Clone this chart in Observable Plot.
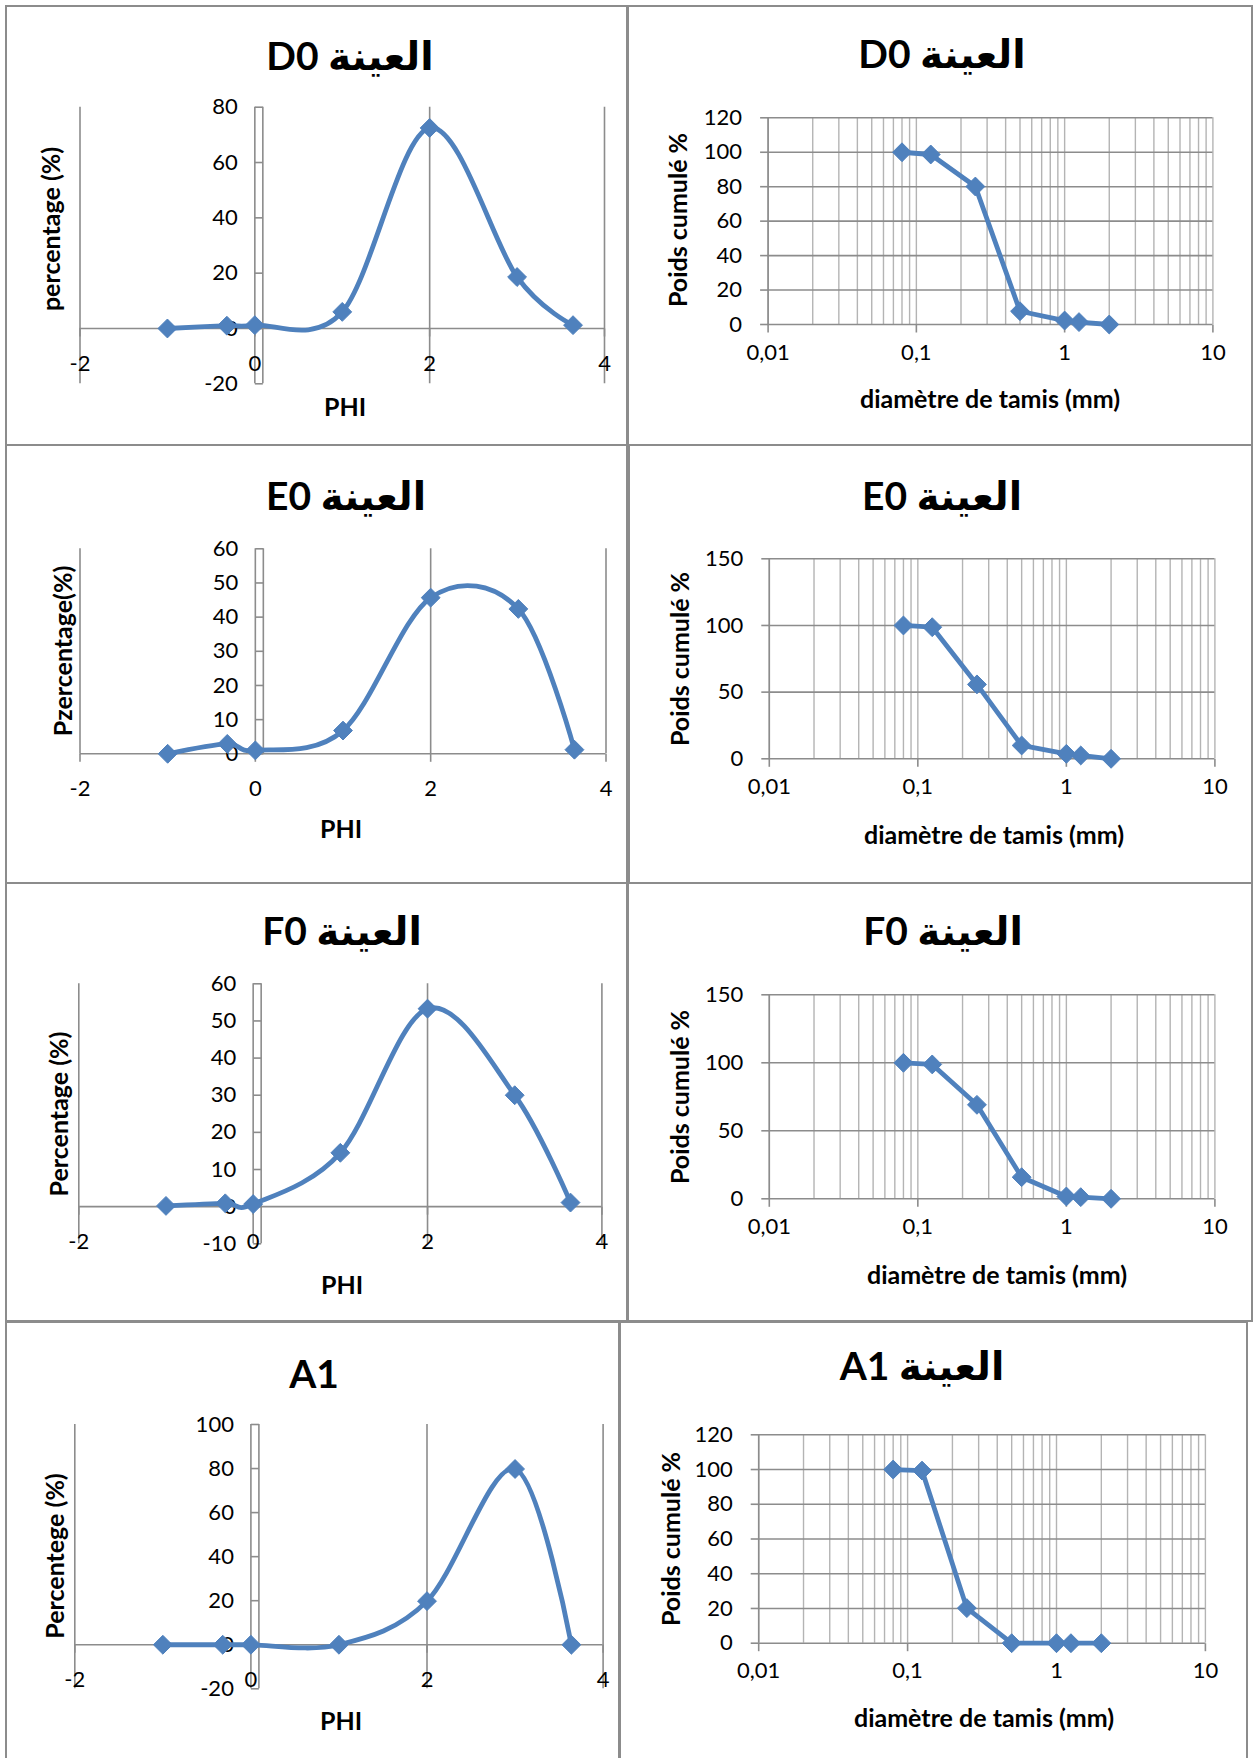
<!DOCTYPE html>
<html><head><meta charset="utf-8">
<script src="https://cdn.jsdelivr.net/npm/d3@7"></script>
<script src="https://cdn.jsdelivr.net/npm/@observablehq/plot@0.6"></script>
<style>
html,body{margin:0;padding:0;background:#fff;}
#page{position:relative;width:1253px;height:1758px;overflow:hidden;background:#fff;font-family:Lato,"DejaVu Sans",sans-serif;color:#000;}
.box{position:absolute;border:2px solid #8c8c8c;box-sizing:border-box;pointer-events:none;z-index:5}
.title{position:absolute;width:500px;text-align:center;font-weight:bold;font-size:39px;line-height:50px;white-space:nowrap}
.xt{position:absolute;width:400px;text-align:center;font-weight:bold;font-size:25px;line-height:30px;white-space:nowrap}
.yt{position:absolute;width:400px;text-align:center;font-weight:bold;font-size:25px;line-height:30px;white-space:nowrap;transform:rotate(-90deg)}
#page svg{position:absolute;overflow:visible}
</style></head><body><div id="page"></div><script>
// ---------- data ----------
const phiValues = [-1, -0.32, 0, 1, 2, 3, 3.64];
const sieveMm = [0.08, 0.125, 0.25, 0.5, 1, 1.25, 2];

const pctD0 = [0, 1.0, 1.2, 6, 72.5, 18.6, 1.2];
const cumD0 = [100, 98.7, 80.1, 7.7, 2.3, 1.4, 0];
const pctE0 = [0, 2.9, 1.0, 6.8, 45.7, 42.4, 1.2];
const cumE0 = [100, 98.7, 55.8, 10, 3.7, 2.5, 0];
const pctF0 = [0.2, 0.9, 0.7, 14.5, 53.3, 30, 1.1];
const cumF0 = [100, 98.8, 69.1, 15.9, 1.7, 1.2, 0];
const pctA1 = [0, 0, 0, 0, 19.8, 79.8, 0];
const cumA1 = [100, 99.4, 20.2, 0, 0, 0, 0];

const phiTicks = [-2, 0, 2, 4];
const phiTickLabels = ["-2", "0", "2", "4"];
const logTicks = [0.01, 0.1, 1, 10];
const logTickLabels = ["0,01", "0,1", "1", "10"];
const logGridTicks = [0.01, 0.1, 1].flatMap(k => [1,2,3,4,5,6,7,8,9].map(m => +(k*m).toPrecision(3))).concat([10]);

const yTicksD0L = [-20, 0, 20, 40, 60, 80];
const yTicksE0L = [0, 10, 20, 30, 40, 50, 60];
const yTicksF0L = [-10, 0, 10, 20, 30, 40, 50, 60];
const yTicksA1L = [-20, 0, 20, 40, 60, 80, 100];
const yTicksD0R = [0, 20, 40, 60, 80, 100, 120];
const yTicksE0R = [0, 50, 100, 150];
const yTicksF0R = [0, 50, 100, 150];
const yTicksA1R = [0, 20, 40, 60, 80, 100, 120];

const titleD0 = "العينة D0", titleE0 = "العينة E0", titleF0 = "العينة F0", titleA1L = "A1", titleA1R = "العينة A1";
const phiLabel = "PHI";
const sieveLabel = "diamètre de tamis (mm)";
const cumLabel = "Poids cumulé %";
const pctLabels = ["percentage (%)", "Pzercentage(%)", "Percentage (%)", "Percentege (%)"];

// ---------- style ----------
const BLUE = "#4f81bd";
const AXIS = "#8c8c8c";
const GRIDH = "#8c8c8c";
const GRIDV = "#b4b4b4";
const FONT = "Lato, 'DejaVu Sans', sans-serif";
const page = document.getElementById("page");

const tickRight = {draw(ctx) { ctx.moveTo(0, 0); ctx.lineTo(8, 0); }};
const tickLeft = {draw(ctx) { ctx.moveTo(0, 0); ctx.lineTo(-8, 0); }};
const tickDown = {draw(ctx) { ctx.moveTo(0, 0); ctx.lineTo(0, 8); }};

function addDiv(cls, text, x, y, w, h, rtl) {
  const d = document.createElement("div");
  d.className = cls;
  d.textContent = text;
  if (rtl) d.dir = "rtl";
  d.style.left = (x - w / 2) + "px";
  d.style.top = (y - h / 2) + "px";
  page.append(d);
  return d;
}
function addBox(b) {
  const d = document.createElement("div");
  d.className = "box";
  d.style.left = b[0] + "px"; d.style.top = b[1] + "px";
  d.style.width = b[2] + "px"; d.style.height = b[3] + "px";
  page.append(d);
}
function margins(box, frame) {
  return {
    width: box[2], height: box[3],
    marginLeft: frame[0] - box[0], marginRight: box[0] + box[2] - frame[1],
    marginTop: frame[2] - box[1], marginBottom: box[1] + box[3] - frame[3]
  };
}
function placeSvg(svg, box) {
  svg.style.left = box[0] + "px"; svg.style.top = box[1] + "px";
  page.append(svg);
}
const plotStyle = {fontFamily: FONT, fontSize: "22px", color: "#000", background: "transparent", overflow: "visible"};

function leftPanel(c) {
  const rows = phiValues.map((p, i) => ({phi: p, pct: c.values[i]}));
  const yt = c.yTicks;
  const svg = Plot.plot({
    ...margins(c.box, c.frame),
    x: {type: "linear", domain: [phiTicks[0], phiTicks[phiTicks.length - 1]], axis: null},
    y: {type: "linear", domain: [yt[0], yt[yt.length - 1]], axis: null},
    style: plotStyle,
    marks: [
      Plot.ruleX(phiTicks, {stroke: AXIS, strokeWidth: 1.6}),
      Plot.ruleY([0], {stroke: AXIS, strokeWidth: 1.6}),
      Plot.dot(phiTicks, {x: d => d, y: 0, symbol: tickDown, fill: "none", stroke: AXIS, strokeWidth: 1.6}),
      Plot.ruleX([0], {dx: 8, stroke: AXIS, strokeWidth: 1.6}),
      Plot.dot(yt, {x: 0, y: d => d, symbol: tickRight, fill: "none", stroke: AXIS, strokeWidth: 1.6}),
      Plot.text(yt, {x: 0, y: d => d, text: d => String(d), textAnchor: "end", dx: -17, fill: "#000"}),
      Plot.text(phiTicks, {x: d => d, y: 0, dy: 35, text: (d, i) => phiTickLabels[i], fill: "#000"}),
      Plot.line(rows, {x: "phi", y: "pct", curve: "cardinal", stroke: BLUE, strokeWidth: 4.8}),
      Plot.dot(rows, {x: "phi", y: "pct", symbol: "diamond2", r: 8.5, fill: BLUE, stroke: BLUE, strokeWidth: 1})
    ]
  });
  placeSvg(svg, c.box);
  addDiv("title", c.title, c.titlePos[0], c.titlePos[1], 500, 50, true);
  addDiv("xt", phiLabel, c.xTitlePos[0], c.xTitlePos[1], 400, 30);
  addDiv("yt", c.yLabel, c.yTitlePos[0], c.yTitlePos[1], 400, 30);
}

function rightPanel(c) {
  const rows = sieveMm.map((s, i) => ({mm: s, cum: c.values[i]}));
  const yt = c.yTicks;
  const svg = Plot.plot({
    ...margins(c.box, c.frame),
    x: {type: "log", domain: [logTicks[0], logTicks[logTicks.length - 1]], axis: null},
    y: {type: "linear", domain: [yt[0], yt[yt.length - 1]], axis: null},
    style: plotStyle,
    marks: [
      Plot.ruleX(logGridTicks, {stroke: GRIDV, strokeWidth: 1.4}),
      Plot.ruleY(yt, {stroke: GRIDH, strokeWidth: 1.6}),
      Plot.ruleX([logTicks[0]], {stroke: AXIS, strokeWidth: 1.6}),
      Plot.dot(yt, {y: d => d, frameAnchor: "left", symbol: tickLeft, fill: "none", stroke: AXIS, strokeWidth: 1.6}),
      Plot.dot(logTicks, {x: d => d, frameAnchor: "bottom", symbol: tickDown, fill: "none", stroke: AXIS, strokeWidth: 1.6}),
      Plot.text(yt, {y: d => d, frameAnchor: "left", text: d => String(d), textAnchor: "end", dx: -26, fill: "#000"}),
      Plot.text(logTicks, {x: d => d, frameAnchor: "bottom", dy: 35, text: (d, i) => logTickLabels[i], fill: "#000"}),
      Plot.line(rows, {x: "mm", y: "cum", stroke: BLUE, strokeWidth: 4.8}),
      Plot.dot(rows, {x: "mm", y: "cum", symbol: "diamond2", r: 8.5, fill: BLUE, stroke: BLUE, strokeWidth: 1})
    ]
  });
  placeSvg(svg, c.box);
  addDiv("title", c.title, c.titlePos[0], c.titlePos[1], 500, 50, true);
  addDiv("xt", sieveLabel, c.xTitlePos[0], c.xTitlePos[1], 400, 30);
  addDiv("yt", cumLabel, c.yTitlePos[0], c.yTitlePos[1], 400, 30);
}

// ---------- layout (box: left, top, width, height; frame: x0, x1, yTop, yBottom) ----------
const leftPanels = [
  {box: [5, 5, 623, 441], frame: [79.5, 604, 106.7, 383.3], values: pctD0, yTicks: yTicksD0L, title: titleD0,
   titlePos: [350, 55], xTitlePos: [345, 406], yTitlePos: [50, 229], yLabel: pctLabels[0]},
  {box: [5, 444, 623, 440], frame: [79.5, 605.5, 548.3, 753.3], values: pctE0, yTicks: yTicksE0L, title: titleE0,
   titlePos: [346, 495], xTitlePos: [341, 828], yTitlePos: [62, 651], yLabel: pctLabels[1]},
  {box: [5, 882, 623, 440], frame: [78.3, 601.4, 983.3, 1243.3], values: pctF0, yTicks: yTicksF0L, title: titleF0,
   titlePos: [342, 930], xTitlePos: [342, 1284], yTitlePos: [58, 1114], yLabel: pctLabels[2]},
  {box: [5, 1321, 615, 440], frame: [74.3, 602.6, 1424, 1688.3], values: pctA1, yTicks: yTicksA1L, title: titleA1L,
   titlePos: [314, 1373], xTitlePos: [341, 1720], yTitlePos: [54, 1556], yLabel: pctLabels[3]}
];
const rightPanels = [
  {box: [627, 5, 626, 441], frame: [767.6, 1212.4, 117.3, 324], values: cumD0, yTicks: yTicksD0R, title: titleD0,
   titlePos: [942, 53], xTitlePos: [990, 398], yTitlePos: [677, 220]},
  {box: [628, 444, 625, 440], frame: [768.8, 1214.4, 558.3, 758.3], values: cumE0, yTicks: yTicksE0R, title: titleE0,
   titlePos: [942, 495], xTitlePos: [994, 834], yTitlePos: [679, 659]},
  {box: [627, 882, 626, 440], frame: [768.8, 1214.4, 994.3, 1198.3], values: cumF0, yTicks: yTicksF0R, title: titleF0,
   titlePos: [943, 930], xTitlePos: [997, 1274], yTitlePos: [679, 1097]},
  {box: [619, 1321, 629, 440], frame: [758.2, 1204.9, 1434.3, 1642.7], values: cumA1, yTicks: yTicksA1R, title: titleA1R,
   titlePos: [922, 1365], xTitlePos: [984, 1717], yTitlePos: [670, 1539]}
];

leftPanels.forEach(leftPanel);
rightPanels.forEach(rightPanel);
[...leftPanels, ...rightPanels].forEach(p => addBox(p.box));
</script></body></html>
